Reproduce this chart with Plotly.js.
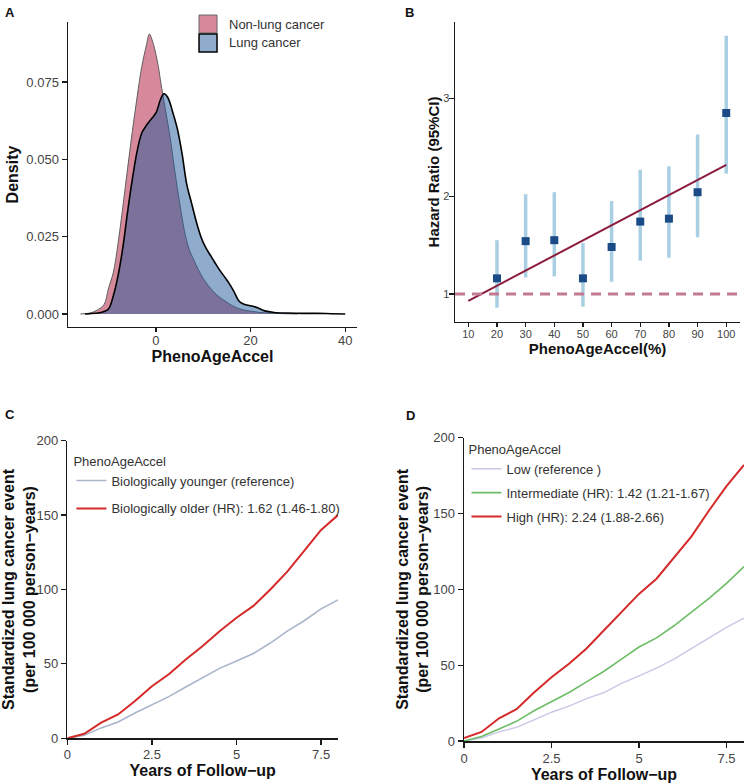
<!DOCTYPE html>
<html>
<head>
<meta charset="utf-8">
<script src="https://cdn.plot.ly/plotly-3.0.1.min.js"></script>
<style>html,body{margin:0;padding:0;background:#fff;}#chart{width:744px;height:783px;}</style>
</head>
<body>
<div id="chart"></div>
<script>
// ---------- Panel A: density of PhenoAgeAccel ----------
const nonLungX = [-16, -14, -12.5, -11, -10, -9, -8, -7, -6, -5, -4, -3, -2, -1.4, -0.5, 0.5, 1, 2, 3, 4, 5, 6, 7, 8, 9, 10, 11, 12, 13, 14, 15, 16, 18, 20, 22, 24, 27, 30];
const nonLungY = [0, 0.0003, 0.0012, 0.003, 0.0085, 0.0135, 0.023, 0.0347, 0.047, 0.059, 0.070, 0.080, 0.087, 0.0905, 0.087, 0.080, 0.075, 0.066, 0.057, 0.046, 0.036, 0.027, 0.021, 0.0175, 0.0142, 0.0115, 0.0093, 0.0075, 0.006, 0.0048, 0.0038, 0.0028, 0.0015, 0.0009, 0.0005, 0.0003, 0.0001, 0];
const lungX = [-15, -14, -12, -11, -10, -9, -8, -7, -6, -5, -4, -3, -2, -1, 0, 1, 1.7, 2.5, 3.5, 4.5, 5.5, 6.5, 7.5, 8.5, 9.5, 10.5, 11.5, 12.5, 13.5, 14.5, 15.5, 16.5, 17.5, 18.5, 19.5, 20.5, 21.5, 23, 25, 28, 31, 34, 37, 40];
const lungY = [0, 0.0001, 0.0004, 0.0008, 0.0017, 0.006, 0.0125, 0.0215, 0.033, 0.0435, 0.0525, 0.0585, 0.061, 0.063, 0.065, 0.0695, 0.0712, 0.070, 0.0655, 0.06, 0.052, 0.042, 0.036, 0.030, 0.025, 0.0215, 0.019, 0.0165, 0.0141, 0.012, 0.0098, 0.0072, 0.0043, 0.0032, 0.0028, 0.0025, 0.002, 0.001, 0.0005, 0.0003, 0.0002, 0.0002, 0.0001, 0];
const groupNames = ["Non-lung cancer", "Lung cancer"];

// ---------- Panel B: HR by PhenoAgeAccel percentile ----------
const pct = [20, 30, 40, 50, 60, 70, 80, 90, 100];
const pctTicks = [10, 20, 30, 40, 50, 60, 70, 80, 90, 100];
const hr = [1.16, 1.54, 1.55, 1.16, 1.48, 1.74, 1.77, 2.04, 2.85];
const hrLow = [0.86, 1.17, 1.18, 0.87, 1.125, 1.34, 1.37, 1.58, 2.23];
const hrHigh = [1.55, 2.02, 2.04, 1.52, 1.95, 2.27, 2.305, 2.63, 3.64];
const trendX = [10, 100];
const trendY = [0.93, 2.32];
const refHR = 1;

// ---------- Panel C: two groups ----------
const yearsC = [0, 0.5, 1, 1.5, 2, 2.5, 3, 3.5, 4, 4.5, 5, 5.5, 6, 6.5, 7, 7.5, 8];
const youngerC = [0, 2, 7, 11, 17, 22.5, 28, 34.5, 41, 47, 52, 57, 64, 72, 79, 87, 93];
const olderC = [0, 3, 10.5, 16, 25, 35, 43, 53, 62, 72, 81, 89, 100, 112, 126, 140, 150];
const namesC = ["Biologically younger (reference)", "Biologically older (HR): 1.62 (1.46-1.80)"];

// ---------- Panel D: three groups ----------
const yearsD = [0, 0.5, 1, 1.5, 2, 2.5, 3, 3.5, 4, 4.5, 5, 5.5, 6, 6.5, 7, 7.5, 8];
const lowD = [0, 2, 6, 9, 14, 19, 23, 28, 32, 38, 43, 48, 54, 61, 68, 75, 81];
const interD = [0, 3, 8, 13, 20, 26, 32, 39, 46, 54, 62, 68, 76, 85, 94, 104, 115];
const highD = [2, 6, 15, 21, 32, 42, 51, 61, 73, 85, 97, 107, 121, 135, 152, 168, 182];
const namesD = ["Low (reference )", "Intermediate (HR): 1.42 (1.21-1.67)", "High (HR): 2.24 (1.88-2.66)"];

const FONT = "Liberation Sans, Arial, Helvetica, sans-serif";
const AX = '#1a1a1a';
const TICKC = '#444';

const traces = [
  {x: nonLungX, y: nonLungY, type: 'scatter', mode: 'lines', fill: 'tozeroy', name: groupNames[0],
   fillcolor: 'rgba(173,19,55,0.5)', line: {color: '#5e5e5e', width: 1, shape: 'spline'},
   xaxis: 'x', yaxis: 'y', showlegend: false},
  {x: lungX, y: lungY, type: 'scatter', mode: 'lines', fill: 'tozeroy', name: groupNames[1],
   fillcolor: 'rgba(33,89,155,0.5)', line: {color: '#000', width: 1.6, shape: 'spline'},
   xaxis: 'x', yaxis: 'y', showlegend: false},

  {x: pct, y: hr, type: 'scatter', mode: 'markers', xaxis: 'x2', yaxis: 'y2', showlegend: false,
   marker: {symbol: 'square', size: 8, color: '#1b4b86'},
   error_y: {type: 'data', symmetric: false,
             array: hrHigh.map((v, i) => v - hr[i]), arrayminus: hr.map((v, i) => v - hrLow[i]),
             color: '#a9cfe3', thickness: 3.5, width: 0}},
  {x: trendX, y: trendY, type: 'scatter', mode: 'lines', xaxis: 'x2', yaxis: 'y2', showlegend: false,
   line: {color: '#8c1c3c', width: 2}},

  {x: yearsC, y: youngerC, type: 'scatter', mode: 'lines', name: namesC[0], xaxis: 'x3', yaxis: 'y3',
   legend: 'legend2', legendgroup: 'c1', line: {color: '#a8b5ca', width: 1.6}},
  {x: yearsC, y: olderC, type: 'scatter', mode: 'lines', name: namesC[1], xaxis: 'x3', yaxis: 'y3',
   legend: 'legend2', legendgroup: 'c2', line: {color: '#d42a2a', width: 2}},

  {x: yearsD, y: lowD, type: 'scatter', mode: 'lines', name: namesD[0], xaxis: 'x4', yaxis: 'y4',
   legend: 'legend3', legendgroup: 'd1', line: {color: '#c9c8e6', width: 1.4}},
  {x: yearsD, y: interD, type: 'scatter', mode: 'lines', name: namesD[1], xaxis: 'x4', yaxis: 'y4',
   legend: 'legend3', legendgroup: 'd2', line: {color: '#6cbd66', width: 1.6}},
  {x: yearsD, y: highD, type: 'scatter', mode: 'lines', name: namesD[2], xaxis: 'x4', yaxis: 'y4',
   legend: 'legend3', legendgroup: 'd3', line: {color: '#d42a2a', width: 2}}
];

function axis(o) {
  return Object.assign({
    showline: true, linecolor: AX, linewidth: 1.5, mirror: false,
    ticks: 'outside', ticklen: 5, tickwidth: 1.2, tickcolor: AX,
    showgrid: false, zeroline: false, automargin: false, fixedrange: true,
    tickfont: {family: FONT, size: 13, color: TICKC}
  }, o);
}
function ttl(text, size, standoff) {
  return {text: '<b>' + text + '</b>', font: {family: FONT, size: size, color: '#111'}, standoff: standoff};
}

const layout = {
  width: 744, height: 783,
  margin: {l: 0, r: 0, t: 0, b: 0},
  paper_bgcolor: '#fff', plot_bgcolor: '#fff',
  font: {family: FONT, size: 13, color: '#333'},
  showlegend: true,
  xaxis: axis({domain: [0.0914, 0.4798], anchor: 'y', range: [-18.6, 42.5], tickvals: [0, 20, 40],
               ticklen: 4, ticklabelstandoff: -3, title: ttl('PhenoAgeAccel', 16, 0)}),
  yaxis: axis({domain: [0.5824, 0.9719], anchor: 'x', range: [-0.0042, 0.0944],
               tickvals: [0, 0.025, 0.05, 0.075], tickformat: '.3f', title: ttl('Density', 16, 3)}),
  xaxis2: axis({domain: [0.6116, 0.9946], anchor: 'y2', range: [5.36, 104.8], tickvals: pctTicks,
                ticklen: 4, ticklabelstandoff: -3,
                tickfont: {family: FONT, size: 11, color: TICKC}, title: ttl('PhenoAgeAccel(%)', 15, 2)}),
  yaxis2: axis({domain: [0.5888, 0.9719], anchor: 'x2', range: [0.714, 3.78], tickvals: [1, 2, 3],
                ticklabelstandoff: -3,
                tickfont: {family: FONT, size: 11, color: TICKC}, title: ttl('Hazard Ratio (95%CI)', 15, 0)}),
  xaxis3: axis({domain: [0.0905, 0.4543], anchor: 'y3', range: [0, 8], tickvals: [0, 2.5, 5, 7.5],
                ticklabelstandoff: -1, title: ttl('Years of Follow\u2212up', 16, 0)}),
  yaxis3: axis({domain: [0.0571, 0.4372], anchor: 'x3', range: [0, 200], tickvals: [0, 50, 100, 150, 200],
                title: ttl('Standardized lung cancer event<br>(per 100 000 person\u2212years)', 16, 6)}),
  xaxis4: axis({domain: [0.6237, 1.0], anchor: 'y4', range: [0, 8], tickvals: [0, 2.5, 5, 7.5],
                title: ttl('Years of Follow\u2212up', 16, 2)}),
  yaxis4: axis({domain: [0.0536, 0.441], anchor: 'x4', range: [0, 200], tickvals: [0, 50, 100, 150, 200],
                title: ttl('Standardized lung cancer event<br>(per 100 000 person\u2212years)', 16, 0)}),
  legend2: {x: 0.096, y: 0.427, xanchor: 'left', yanchor: 'top', bgcolor: 'rgba(0,0,0,0)',
            font: {family: FONT, size: 13, color: '#333'}, tracegroupgap: 8, itemwidth: 30,
            title: {text: 'PhenoAgeAccel', font: {family: FONT, size: 13, color: '#333'}, side: 'top'}},
  legend3: {x: 0.627, y: 0.442, xanchor: 'left', yanchor: 'top', bgcolor: 'rgba(0,0,0,0)',
            font: {family: FONT, size: 13, color: '#333'}, tracegroupgap: 4, itemwidth: 30,
            title: {text: 'PhenoAgeAccel', font: {family: FONT, size: 13, color: '#333'}, side: 'top'}},
  shapes: [
    {type: 'line', xref: 'x2 domain', yref: 'y2', x0: 0, x1: 1, y0: refHR, y1: refHR, layer: 'above',
     line: {color: '#c27a92', width: 3, dash: '10px,7px'}},
    {type: 'rect', xref: 'paper', yref: 'paper', x0: 0.2675, x1: 0.2917, y0: 0.9579, y1: 0.9808,
     fillcolor: 'rgba(173,19,55,0.5)', line: {color: '#666', width: 1}},
    {type: 'rect', xref: 'paper', yref: 'paper', x0: 0.2675, x1: 0.2917, y0: 0.9336, y1: 0.9566,
     fillcolor: 'rgba(33,89,155,0.5)', line: {color: '#000', width: 1.5}}
  ],
  annotations: [
    {text: groupNames[0], xref: 'paper', yref: 'paper', x: 0.3051, y: 0.9681, xanchor: 'left', yanchor: 'middle',
     showarrow: false, font: {family: FONT, size: 13, color: '#333'}},
    {text: groupNames[1], xref: 'paper', yref: 'paper', x: 0.3051, y: 0.9451, xanchor: 'left', yanchor: 'middle',
     showarrow: false, font: {family: FONT, size: 13, color: '#333'}},
    {text: '<b>A</b>', xref: 'paper', yref: 'paper', x: 0.004, y: 0.996, xanchor: 'left', yanchor: 'top', showarrow: false, font: {family: FONT, size: 13, color: '#111'}},
    {text: '<b>B</b>', xref: 'paper', yref: 'paper', x: 0.541, y: 0.996, xanchor: 'left', yanchor: 'top', showarrow: false, font: {family: FONT, size: 13, color: '#111'}},
    {text: '<b>C</b>', xref: 'paper', yref: 'paper', x: 0.004, y: 0.483, xanchor: 'left', yanchor: 'top', showarrow: false, font: {family: FONT, size: 13, color: '#111'}},
    {text: '<b>D</b>', xref: 'paper', yref: 'paper', x: 0.543, y: 0.482, xanchor: 'left', yanchor: 'top', showarrow: false, font: {family: FONT, size: 13, color: '#111'}}
  ]
};

Plotly.newPlot('chart', traces, layout, {displayModeBar: false, staticPlot: true});
</script>
</body>
</html>
